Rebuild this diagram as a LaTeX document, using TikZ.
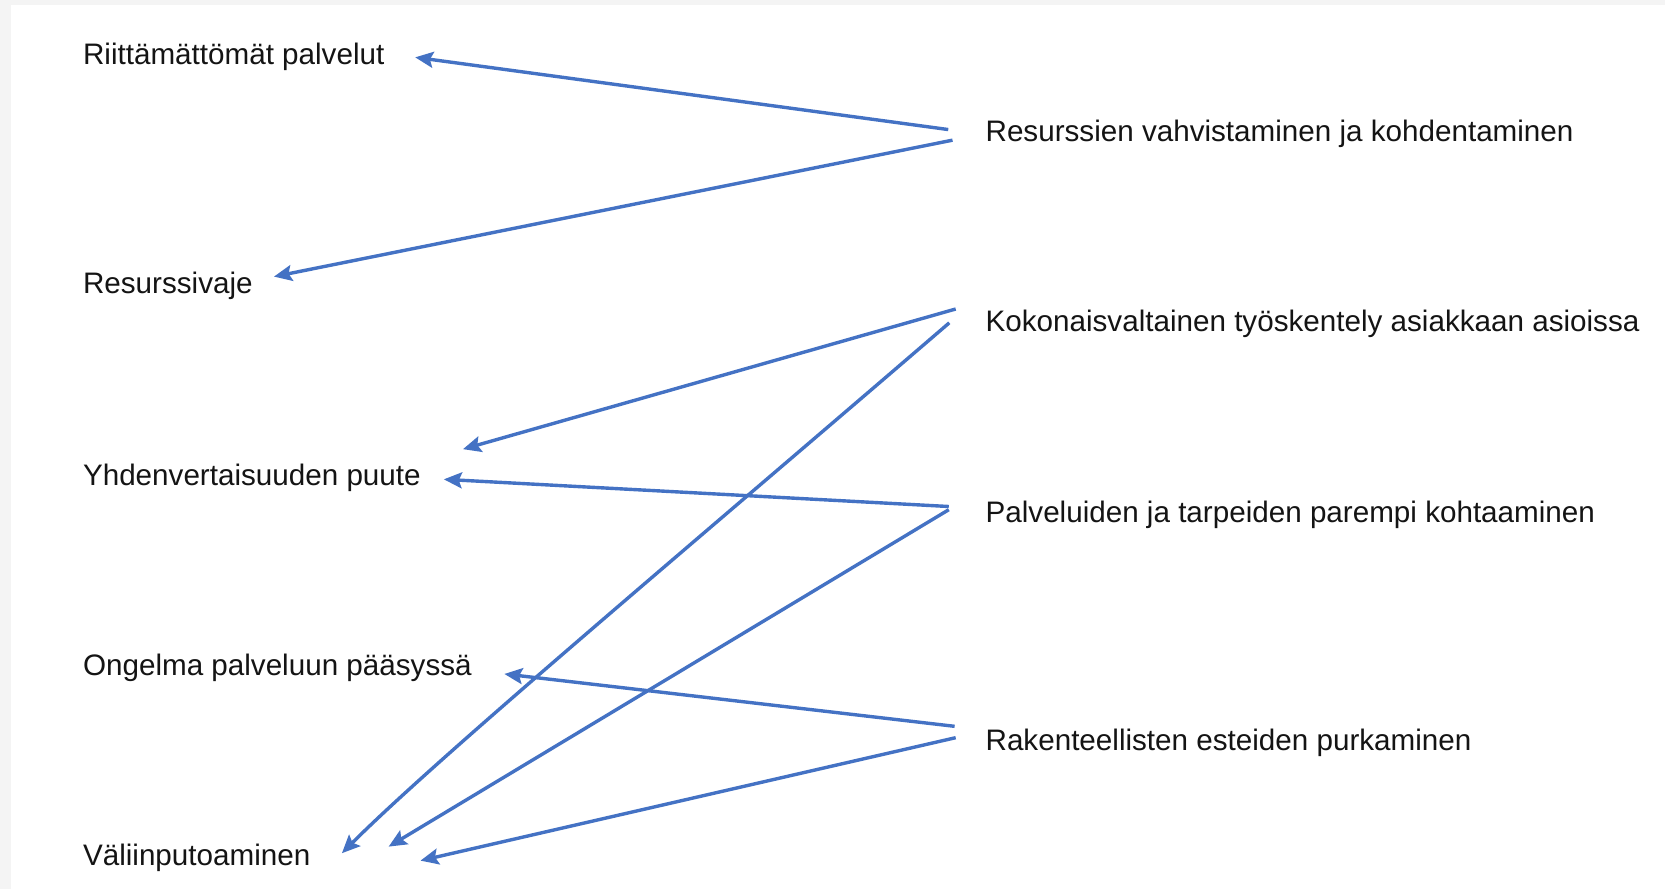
\documentclass[tikz,border=0pt]{standalone}
\usepackage{fontspec}
\setmainfont{Liberation Sans}
\usetikzlibrary{arrows.meta}
\definecolor{lineblue}{RGB}{68,114,196}
\definecolor{framegray}{RGB}{244,244,244}
\begin{document}
\begin{tikzpicture}[x=1pt,y=-1pt,
  lab/.style={anchor=base west, inner sep=0pt, font=\fontsize{27.9}{33}\selectfont, text=black!92},
  conn/.style={draw=lineblue, line width=3.2pt, -{Stealth[length=17pt,width=15pt,inset=3pt]}}]
\fill[framegray] (0,0) rectangle (1568,837);
\fill[white] (10,4.5) rectangle (1568,837);
\useasboundingbox (0,0) rectangle (1568,837);

\node[lab] (l1) at (78,61) {Riittämättömät palvelut};
\node[lab] (l2) at (78,276) {Resurssivaje};
\node[lab] (l3) at (78,457) {Yhdenvertaisuuden puute};
\node[lab] (l4) at (78,636) {Ongelma palveluun pääsyssä};
\node[lab] (l5) at (78,815) {Väliinputoaminen};
\node[lab] (r1) at (928,133) {Resurssien vahvistaminen ja kohdentaminen};
\node[lab] (r2) at (928,312) {Kokonaisvaltainen työskentely asiakkaan asioissa};
\node[lab] (r3) at (928,492) {Palveluiden ja tarpeiden parempi kohtaaminen};
\node[lab] (r4) at (928,707) {Rakenteellisten esteiden purkaminen};

\draw[conn] ([shift={(-35,-11)}]r1.base west) -- ([shift={(313,-7)}]l1.base west);
\draw[conn] ([shift={(-31,-1)}]r1.base west) -- ([shift={(180,-15.5)}]l2.base west);
\draw[conn] ([shift={(-28,-21)}]r2.base west) -- ([shift={(358,-34)}]l3.base west);
\draw[conn] ([shift={(-34,-8)}]r2.base west) .. controls +(-250,215) and +(90,-90) .. ([shift={(244,-11.5)}]l5.base west);
\draw[conn] ([shift={(-34.5,-15)}]r3.base west) -- ([shift={(340,-5.6)}]l3.base west);
\draw[conn] ([shift={(-34.5,-12)}]r3.base west) -- ([shift={(288,-17.7)}]l5.base west);
\draw[conn] ([shift={(-29,-23)}]r4.base west) -- ([shift={(397,-1.3)}]l4.base west);
\draw[conn] ([shift={(-28,-12.3)}]r4.base west) -- ([shift={(318,-4.5)}]l5.base west);
\end{tikzpicture}
\end{document}
